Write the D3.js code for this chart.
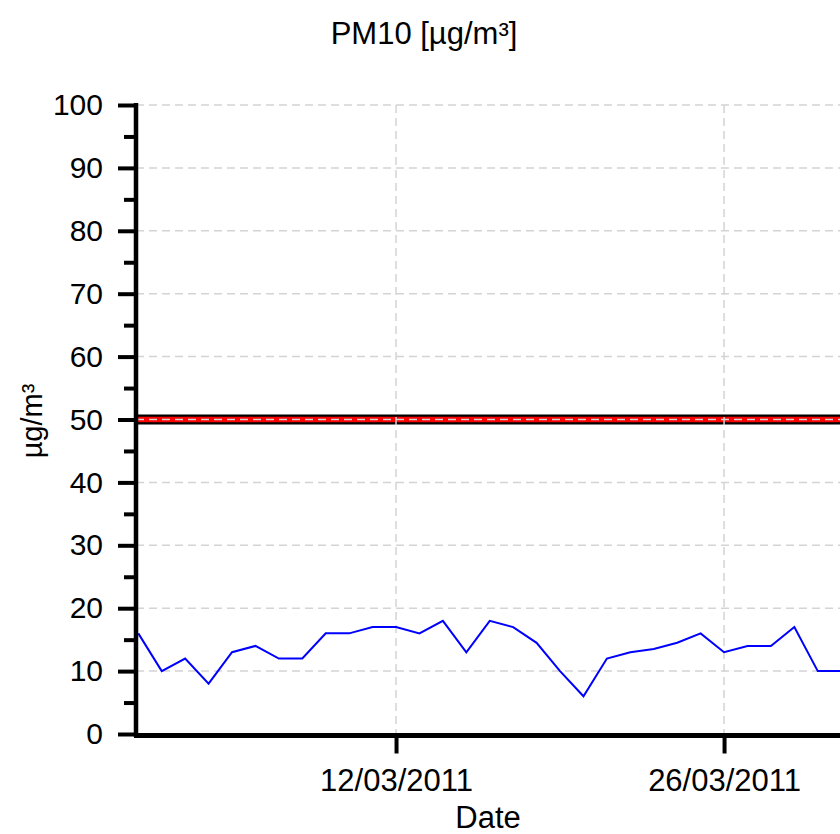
<!DOCTYPE html>
<html>
<head>
<meta charset="utf-8">
<script src="https://cdn.jsdelivr.net/npm/d3@7"></script>
<style>
  body { margin: 0; background: #fff; }
  svg { display: block; font-family: "Liberation Sans", Arial, sans-serif; }
</style>
</head>
<body>
<div id="chart"></div>
<script>
// daily PM10 values, March 2011
const dates = [
  "01/03/2011", "02/03/2011", "03/03/2011", "04/03/2011", "05/03/2011",
  "06/03/2011", "07/03/2011", "08/03/2011", "09/03/2011", "10/03/2011",
  "11/03/2011", "12/03/2011", "13/03/2011", "14/03/2011", "15/03/2011",
  "16/03/2011", "17/03/2011", "18/03/2011", "19/03/2011", "20/03/2011",
  "21/03/2011", "22/03/2011", "23/03/2011", "24/03/2011", "25/03/2011",
  "26/03/2011", "27/03/2011", "28/03/2011", "29/03/2011", "30/03/2011",
  "31/03/2011"
];
const pm10 = [
  16, 10, 12, 8, 13, 14, 12, 12, 16, 16,
  17, 17, 16, 18, 13, 18, 17, 14.5, 10, 6,
  12, 13, 13.5, 14.5, 16, 13, 14, 14, 17, 10,
  10
];
const limitValue = 50;
const yTicks = [0, 10, 20, 30, 40, 50, 60, 70, 80, 90, 100];
const yMinorTicks = [5, 15, 25, 35, 45, 55, 65, 75, 85, 95];
const dateTicks = ["12/03/2011", "26/03/2011"];

const parse = d3.timeParse("%d/%m/%Y");
const fmt = d3.timeFormat("%d/%m/%Y");

const width = 840, height = 834;
const plotLeft = 136, plotTop = 105, plotBottom = 734;
const x0 = 138.3, dayPx = 23.43;

const svg = d3.select("#chart")
  .append("svg")
  .attr("width", width)
  .attr("height", height);

const x = d3.scaleTime()
  .domain([parse("01/03/2011"), parse("01/04/2011")])
  .range([x0, x0 + 31 * dayPx]);

const y = d3.scaleLinear()
  .domain([0, 100])
  .range([plotBottom, plotTop]);

svg.append("defs").append("clipPath")
  .attr("id", "plot")
  .append("rect")
  .attr("x", plotLeft)
  .attr("y", plotTop - 10)
  .attr("width", width - plotLeft)
  .attr("height", plotBottom - plotTop + 10);

const plot = svg.append("g").attr("clip-path", "url(#plot)");

// limit line at 50
plot.append("line")
  .attr("x1", plotLeft).attr("x2", width)
  .attr("y1", y(limitValue)).attr("y2", y(limitValue))
  .attr("stroke", "#000")
  .attr("stroke-width", 10);
plot.append("line")
  .attr("x1", plotLeft).attr("x2", width)
  .attr("y1", y(limitValue)).attr("y2", y(limitValue))
  .attr("stroke", "#ff0000")
  .attr("stroke-width", 5.5);

// grid
plot.selectAll(".hgrid")
  .data(yTicks.filter(d => d > 0))
  .enter()
  .append("line")
  .attr("class", "hgrid")
  .attr("x1", plotLeft).attr("x2", width)
  .attr("y1", d => y(d)).attr("y2", d => y(d))
  .attr("stroke", "#d4d4d4")
  .attr("stroke-width", 1.5)
  .attr("stroke-dasharray", "8,5");

plot.selectAll(".vgrid")
  .data(dateTicks.map(parse))
  .enter()
  .append("line")
  .attr("class", "vgrid")
  .attr("x1", d => x(d)).attr("x2", d => x(d))
  .attr("y1", plotTop).attr("y2", plotBottom)
  .attr("stroke", "#d4d4d4")
  .attr("stroke-width", 1.5)
  .attr("stroke-dasharray", "8,5");

// data line
const line = d3.line()
  .x((d, i) => x(parse(dates[i])))
  .y(d => y(d));

plot.append("path")
  .datum(pm10)
  .attr("d", line)
  .attr("fill", "none")
  .attr("stroke", "#0000ff")
  .attr("stroke-width", 2);

// y axis
const yAxis = svg.append("g")
  .attr("transform", `translate(${plotLeft},0)`)
  .call(d3.axisLeft(y).tickValues(yTicks).tickSize(18).tickPadding(15));
yAxis.select(".domain").remove();
yAxis.selectAll("line").attr("stroke", "#000").attr("stroke-width", 4);
yAxis.selectAll("text")
  .attr("fill", "#000")
  .style("font-size", "30px");

const yMinor = svg.append("g")
  .attr("transform", `translate(${plotLeft},0)`)
  .call(d3.axisLeft(y).tickValues(yMinorTicks).tickSize(12).tickFormat(""));
yMinor.select(".domain").remove();
yMinor.selectAll("line").attr("stroke", "#000").attr("stroke-width", 4);

svg.append("line")
  .attr("x1", plotLeft).attr("x2", plotLeft)
  .attr("y1", plotTop - 2).attr("y2", plotBottom + 3)
  .attr("stroke", "#000")
  .attr("stroke-width", 4.5);

// x axis
const xAxis = svg.append("g")
  .attr("transform", `translate(0,${plotBottom + 1.5})`)
  .call(d3.axisBottom(x).tickValues(dateTicks.map(parse)).tickSize(18).tickPadding(15).tickFormat(fmt));
xAxis.select(".domain").remove();
xAxis.selectAll("line").attr("stroke", "#000").attr("stroke-width", 4);
xAxis.selectAll("text")
  .attr("fill", "#000")
  .style("font-size", "31px");

svg.append("line")
  .attr("x1", plotLeft - 2).attr("x2", width)
  .attr("y1", plotBottom + 1.5).attr("y2", plotBottom + 1.5)
  .attr("stroke", "#000")
  .attr("stroke-width", 5);

// labels
svg.append("text")
  .attr("x", 424)
  .attr("y", 44)
  .attr("text-anchor", "middle")
  .style("font-size", "31px")
  .text("PM10 [µg/m³]");

svg.append("text")
  .attr("x", 488)
  .attr("y", 828)
  .attr("text-anchor", "middle")
  .style("font-size", "31px")
  .text("Date");

svg.append("text")
  .attr("transform", "translate(42,421) rotate(-90)")
  .attr("text-anchor", "middle")
  .style("font-size", "29px")
  .text("µg/m³");
</script>
</body>
</html>
